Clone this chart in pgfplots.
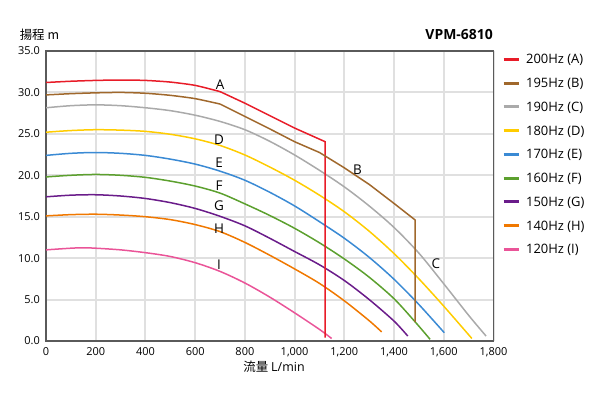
\documentclass[border=0pt]{standalone}
\usepackage{fontspec}
\setmainfont{Open Sans}
\newfontfamily\cjk{Noto Sans CJK JP}
\usepackage{pgfplots}
\pgfplotsset{compat=1.18}
\definecolor{cA}{RGB}{232,28,40}
\definecolor{cB}{RGB}{160,104,44}
\definecolor{cC}{RGB}{170,170,170}
\definecolor{cD}{RGB}{255,204,0}
\definecolor{cE}{RGB}{58,138,212}
\definecolor{cF}{RGB}{92,160,46}
\definecolor{cG}{RGB}{106,28,138}
\definecolor{cH}{RGB}{240,120,0}
\definecolor{cI}{RGB}{234,84,152}
\definecolor{axgray}{RGB}{90,90,90}
\definecolor{gridgray}{RGB}{224,224,224}
\begin{document}
\begin{tikzpicture}
\useasboundingbox (0,0) rectangle (600bp,400bp);
\begin{axis}[
  at={(46bp,59bp)}, anchor=south west,
  width=447.5bp, height=290bp, scale only axis,
  xmin=0, xmax=1800, ymin=0, ymax=35,
  xtick={0,200,400,600,800,1000,1200,1400,1600,1800},
  xticklabels={0,200,400,600,800,{1,000},{1,200},{1,400},{1,600},{1,800}},
  ytick={0,5,10,15,20,25,30,35},
  yticklabels={0.0,5.0,10.0,15.0,20.0,25.0,30.0,35.0},
  /pgf/number format/assume math mode=true,
  major tick length=0pt,
  xmajorgrids=true, ymajorgrids=true,
  major grid style={draw=gridgray, line width=2bp},
  axis line style={axgray, line width=1.6bp},
  tick label style={font=\fontsize{11}{11}\selectfont, text=black},
  xticklabel style={inner sep=0pt, yshift=-6bp},
  yticklabel style={inner sep=0pt, xshift=-6bp},
  every axis plot/.append style={line width=1.5bp},
  legend style={
    at={(axis description cs:1,1)}, anchor=north west,
    xshift=8.5bp, yshift=-3.65bp,
    draw=none, fill=none, inner sep=0pt, outer sep=0pt,
    font=\fontsize{13}{13}\selectfont,
    row sep=14.45bp,
    nodes={inner sep=0pt, text height=9.3bp, text depth=0bp},
    /tikz/every odd column/.append style={column sep=5.5bp},
  },
  legend cell align=left,
  legend image code/.code={\draw[#1, line width=3bp] (0bp,0bp) -- (15.6bp,0bp);},
]
\addplot[cA, smooth, tension=0.4] coordinates {(0,31.2)(100,31.35)(200,31.45)(300,31.5)(400,31.45)(500,31.25)(600,30.85)(700,30.1)};
\addlegendentry{200Hz (A)}
\addplot[cB, smooth, tension=0.4] coordinates {(0,29.7)(100,29.85)(200,29.95)(300,30.0)(400,29.9)(500,29.65)(600,29.25)(700,28.6)};
\addlegendentry{195Hz (B)}
\addplot[cC, smooth, tension=0.5] coordinates {(0,28.15)(100,28.4)(200,28.5)(300,28.4)(400,28.15)(500,27.8)(600,27.25)(700,26.5)(800,25.5)(900,24.1)(1000,22.45)(1100,20.6)(1200,18.6)(1300,16.3)(1400,13.7)(1500,10.6)(1600,6.9)(1700,3.1)(1770,0.6)};
\addlegendentry{190Hz (C)}
\addplot[cD, smooth, tension=0.5] coordinates {(0,25.2)(100,25.4)(200,25.5)(300,25.45)(400,25.3)(500,24.95)(600,24.4)(700,23.6)(800,22.45)(900,21.0)(1000,19.4)(1100,17.6)(1200,15.6)(1300,13.25)(1400,10.55)(1500,7.5)(1600,4.2)(1713,0.3)};
\addlegendentry{180Hz (D)}
\addplot[cE, smooth, tension=0.5] coordinates {(0,22.4)(100,22.65)(200,22.75)(300,22.65)(400,22.4)(500,21.95)(600,21.35)(700,20.5)(800,19.4)(900,17.95)(1000,16.3)(1100,14.4)(1200,12.4)(1300,10.1)(1400,7.45)(1500,4.4)(1602,1.0)};
\addlegendentry{170Hz (E)}
\addplot[cF, smooth, tension=0.5] coordinates {(0,19.8)(100,20.0)(200,20.1)(300,20.0)(400,19.75)(500,19.3)(600,18.7)(700,17.85)(800,16.55)(900,15.15)(1000,13.6)(1100,11.85)(1200,9.9)(1300,7.7)(1400,5.1)(1485,2.3)(1545,0.2)};
\addlegendentry{160Hz (F)}
\addplot[cG, smooth, tension=0.5] coordinates {(0,17.4)(100,17.6)(200,17.65)(300,17.5)(400,17.2)(500,16.7)(600,16.0)(700,15.05)(800,13.9)(900,12.4)(1000,10.8)(1100,9.2)(1200,7.3)(1300,5.0)(1400,2.4)(1455,0.6)};
\addlegendentry{150Hz (G)}
\addplot[cH, smooth, tension=0.5] coordinates {(0,15.1)(100,15.25)(200,15.3)(300,15.2)(400,15.0)(500,14.65)(600,14.05)(700,13.2)(800,11.9)(900,10.35)(1000,8.7)(1100,6.95)(1200,4.85)(1300,2.45)(1350,1.1)};
\addlegendentry{140Hz (H)}
\addplot[cI, smooth, tension=0.5] coordinates {(0,11.0)(100,11.2)(150,11.25)(200,11.2)(300,11.0)(400,10.66)(500,10.2)(600,9.45)(700,8.4)(800,7.0)(900,5.3)(1000,3.4)(1100,1.4)(1149,0.3)};
\addlegendentry{120Hz (I)}
\addplot[cA, forget plot] coordinates {(700,30.1)(800,28.7)(900,27.2)(1000,25.7)(1123,24.05)(1123,0.4)};
\addplot[cB, forget plot] coordinates {(700,28.6)(800,27.1)(900,25.6)(1000,24.05)(1100,22.75)(1200,20.9)(1300,18.9)(1400,16.6)(1485,14.6)(1485,2.3)};
\begin{scope}[every node/.style={font=\fontsize{13.5}{13.5}\selectfont, inner sep=0pt}]
\node at (axis cs:700,30.9) {A};
\node at (axis cs:1253,20.65) {B};
\node at (axis cs:1568,9.3) {C};
\node at (axis cs:696,24.35) {D};
\node at (axis cs:696,21.5) {E};
\node at (axis cs:696,18.7) {F};
\node at (axis cs:696,16.3) {G};
\node at (axis cs:696,13.5) {H};
\node at (axis cs:696,9.2) {I};
\end{scope}
\end{axis}
\node[inner sep=0pt, font=\cjk\fontsize{12.5}{12.5}\selectfont] at (39.5bp,365bp) {揚程\hspace{3bp}m};
\node[inner sep=0pt, anchor=east, font=\bfseries\fontsize{14}{14}\selectfont] at (493bp,365bp) {VPM-6810};
\node[inner sep=0pt, font=\fontsize{12.5}{12.5}\selectfont] at (274bp,33bp) {{\cjk 流量}\hspace{3bp}L/min};
\end{tikzpicture}
\end{document}
